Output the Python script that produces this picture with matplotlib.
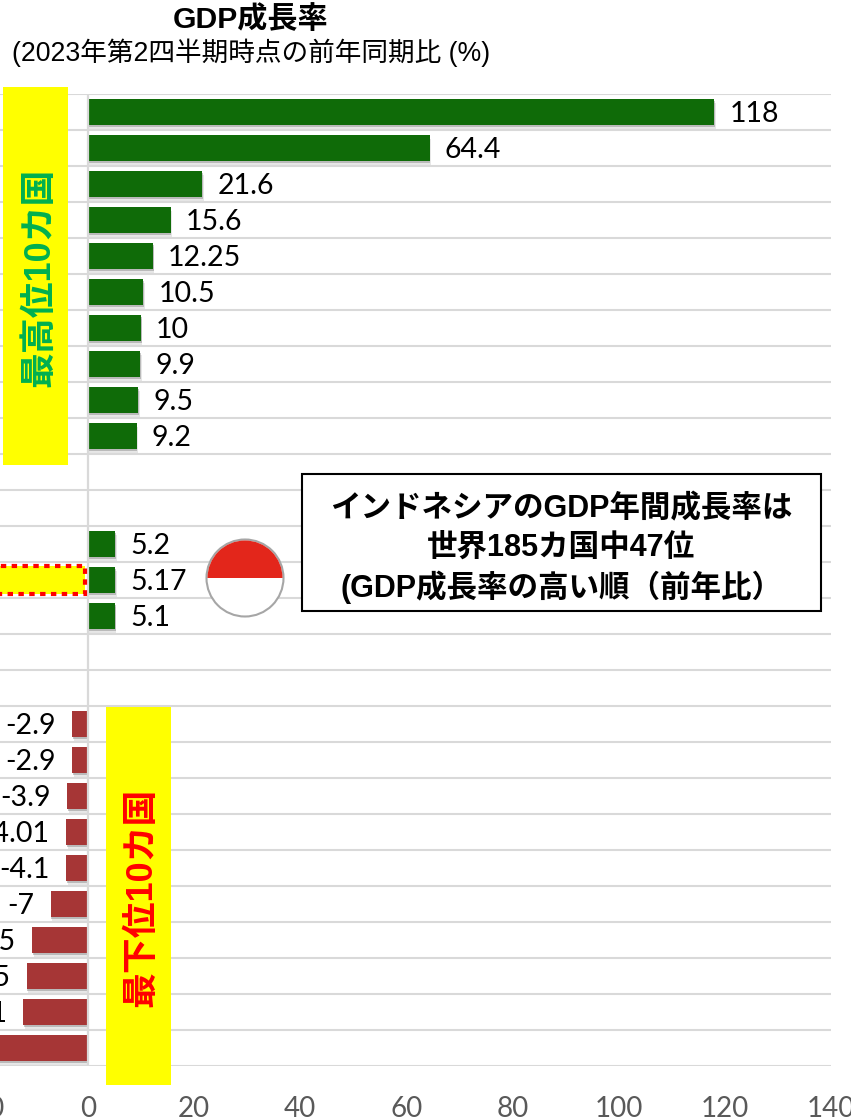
#GDP growth ranking, top 10 / around Indonesia / bottom 10
import numpy as np
import matplotlib.pyplot as plt
import matplotlib.patheffects as pe
from matplotlib.patches import Rectangle, Circle, Wedge

# the two blank rows between groups are kept as None
top_vals = [118, 64.4, 21.6, 15.6, 12.25, 10.5, 10, 9.9, 9.5, 9.2]
mid_vals = [5.2, 5.17, 5.1]
bottom_vals = [-2.9, -2.9, -3.9, -4.01, -4.1, -7, -10.5, -11.5, -12.1, -18.3]
blank = [None, None]
values = top_vals + blank + mid_vals + blank + bottom_vals
x_ticks = [-40, -20, 0, 20, 40, 60, 80, 100, 120, 140]

title = "GDP成長率"
subtitle = "(2023年第2四半期時点の前年同期比 (%)"
note_lines = ["インドネシアのGDP年間成長率は", "世界185カ国中47位", "(GDP成長率の高い順（前年比）"]

W, H = 851, 1119
jp_sans = ['Liberation Sans', 'Noto Sans CJK JP']

fig = plt.figure(figsize=(W / 100, H / 100), dpi=100)

# main axes runs off the left side of the canvas, like the cropped original
px_per_unit = 5.31
zero_px = 87.7
left_px = zero_px - 40 * px_per_unit
right_px = zero_px + 140 * px_per_unit
top_px, bottom_px = 94, 1066
ax = fig.add_axes([left_px / W, 1 - bottom_px / H, (right_px - left_px) / W, (bottom_px - top_px) / H])

shadow = [pe.SimplePatchShadow(offset=(1.2, -2.6), shadow_rgbFace='#888888', alpha=0.2),
          pe.SimplePatchShadow(offset=(0.6, -1.4), shadow_rgbFace='#777777', alpha=0.4),
          pe.Normal()]

for i, v in enumerate(values):
    if v is None:
        continue
    color = '#0F6B08' if v > 0 else '#A63636'
    bar = ax.barh(i, v, height=0.72, color=color, zorder=3)[0]
    bar.set_path_effects(shadow)
    if v > 0:
        ax.annotate(f"{v:g}", (v, i), xytext=(11, -1.2), textcoords='offset points', ha='left', va='center',
                    fontsize=20.5, family='Lato', color='black', zorder=4)
    else:
        ax.annotate(f"{v:g}", (v, i), xytext=(-12, -1.2), textcoords='offset points', ha='right', va='center',
                    fontsize=20.5, family='Lato', color='black', zorder=4)

ax.set_xlim(-40, 140)
ax.set_ylim(26.5, -0.5)
ax.set_xticks(x_ticks)
ax.set_yticks([])
ax.set_yticks(np.arange(-0.5, 27), minor=True)
ax.grid(axis='y', which='minor', color='#D9D9D9', lw=1.5, zorder=0)
ax.axvline(0, color='#D9D9D9', lw=1.6, zorder=5)
ax.tick_params(axis='both', which='both', length=0)
ax.tick_params(axis='x', pad=21.5, labelsize=20, labelcolor='#595959')
for lab in ax.get_xticklabels():
    lab.set_family('Lato')
for s in ax.spines.values():
    s.set_visible(False)
ax.patch.set_alpha(0)

# overlay in pixel coordinates for the annotations
ov = fig.add_axes([0, 0, 1, 1])
ov.set_xlim(0, W)
ov.set_ylim(H, 0)
ov.axis('off')
ov.patch.set_alpha(0)

ov.text(251, 20, title, ha='center', va='center', fontsize=21.7, fontweight='bold', family=jp_sans)
ov.text(12, 53, subtitle, ha='left', va='center', fontsize=19.2, family=jp_sans)

ov.add_patch(Rectangle((3, 87), 65, 378, fc='#FFFF00', ec='none'))
ov.text(40, 277, "最高位10カ国", rotation=90, ha='center', va='center', fontsize=25.8, fontweight='bold',
        color='#00B050', family=jp_sans)
ov.add_patch(Rectangle((106, 707), 65, 378, fc='#FFFF00', ec='none'))
ov.text(142, 897, "最下位10カ国", rotation=90, ha='center', va='center', fontsize=25.8, fontweight='bold',
        color='#FF0000', family=jp_sans)

# Indonesia row highlight
ov.add_patch(Rectangle((-10, 566), 95, 28, fc='#FFFF00', ec='#FF0000', lw=3, ls=(0, (1.3, 1.3))))

# flag
ov.add_patch(Circle((245, 578), 38.5, fc='white', ec='#A6A6A6', lw=1.5))
ov.add_patch(Wedge((245, 578), 37.5, 180, 360, fc='#E3261B', ec='none'))

ov.add_patch(Rectangle((302, 474), 519, 137, fc='white', ec='black', lw=1.5))
for y, line in zip([509, 548, 587], note_lines):
    ov.text(561, y, line, ha='center', va='center', fontsize=22, fontweight='bold', family=jp_sans)

fig.savefig('out.png', dpi=100)
